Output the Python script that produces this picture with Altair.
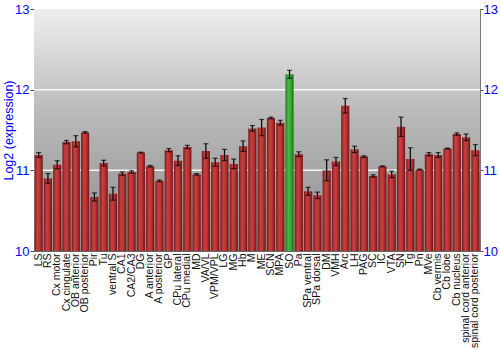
import altair as alt
import pandas as pd

regions = ["LS", "RS", "Cx motor", "Cx cingulate", "OB anterior", "OB posterior", "Pir", "Tu",
           "ventral S", "CA1", "CA2/CA3", "DG", "A anterior", "A posterior", "GP", "CPu lateral",
           "CPu medial", "MD", "VA/VL", "VPM/VPL", "LG", "MG", "Hb", "M", "ME", "SCN", "MPA", "SO",
           "Pa", "SPa ventral", "SPa dorsal", "DM", "VMH", "Arc", "LH", "PAG", "SC", "IC", "VTA",
           "SN", "Tg", "Pn", "MVe", "Cb vermis", "Cb lobe", "Cb nucleus", "spinal cord anterior",
           "spinal cord posterior"]
values = [11.19, 10.90, 11.07, 11.35, 11.36, 11.47, 10.67, 11.09,
          10.71, 10.96, 10.98, 11.22, 11.05, 10.87, 11.25, 11.12,
          11.29, 10.95, 11.24, 11.10, 11.19, 11.08, 11.30, 11.52, 11.53, 11.65, 11.59, 12.19,
          11.20, 10.74, 10.69, 11.00, 11.11, 11.80, 11.26, 11.17, 10.93, 11.05, 10.95,
          11.54, 11.14, 11.01, 11.20, 11.19, 11.27, 11.45, 11.41,
          11.25]
errors = [0.03, 0.06, 0.05, 0.02, 0.07, 0.01, 0.05, 0.035,
          0.08, 0.02, 0.015, 0.005, 0.01, 0.01, 0.02, 0.06,
          0.02, 0.01, 0.09, 0.05, 0.07, 0.06, 0.065, 0.035, 0.10, 0.01, 0.03, 0.05,
          0.03, 0.05, 0.04, 0.13, 0.05, 0.09, 0.04, 0.01, 0.015, 0.005, 0.04,
          0.12, 0.14, 0.005, 0.02, 0.03, 0.005, 0.015, 0.04,
          0.07]
highlight = "SO"
y_ticks = [10, 11, 12, 13]

df = pd.DataFrame({"region": regions, "value": values, "err": errors})
df["lo"] = df["value"] - df["err"]
df["hi"] = df["value"] + df["err"]

W, H = 446, 242
blue = "#0000ff"

xenc = alt.X("region:N", sort=regions, title=None,
             scale=alt.Scale(paddingInner=0.12, paddingOuter=0.06),
             axis=alt.Axis(labelAngle=-90, labelFontSize=10.5, labelColor="#111111",
                           labelFont="Liberation Sans", ticks=False, domain=False,
                           labelPadding=2, labelBaseline="middle"))
yscale = alt.Scale(domain=[10, 13], zero=False, nice=False)

bg = alt.Chart(pd.DataFrame({"a": [0]})).mark_rect(
    color=alt.LinearGradient(gradient="linear",
                             stops=[alt.GradientStop(color="#eeeeee", offset=0),
                                    alt.GradientStop(color="#b8b8b8", offset=0.45),
                                    alt.GradientStop(color="#8c8c8c", offset=1)],
                             x1=0, x2=0, y1=0, y2=1)
).encode(x=alt.value(0), x2=alt.value(W), y=alt.value(0), y2=alt.value(H))

grid = alt.Chart(pd.DataFrame({"g": [11, 12]})).mark_rule(color="white", strokeWidth=1.5, opacity=0.9).encode(
    y=alt.Y("g:Q", scale=yscale, axis=None))

red_grad = alt.LinearGradient(gradient="linear",
                              stops=[alt.GradientStop(color="#7a1818", offset=0),
                                     alt.GradientStop(color="#c84040", offset=0.35),
                                     alt.GradientStop(color="#b83434", offset=0.65),
                                     alt.GradientStop(color="#6e1414", offset=1)],
                              x1=0, x2=1, y1=0, y2=0)
green_grad = alt.LinearGradient(gradient="linear",
                                stops=[alt.GradientStop(color="#1f7a1f", offset=0),
                                       alt.GradientStop(color="#44bb44", offset=0.35),
                                       alt.GradientStop(color="#35a835", offset=0.65),
                                       alt.GradientStop(color="#1a6e1a", offset=1)],
                                x1=0, x2=1, y1=0, y2=0)

base = alt.Chart(df)

yaxis = alt.Axis(title="Log2 (expression)", titleColor=blue, titleFontSize=12.5,
                 titleFontWeight="normal", titleFont="Liberation Sans",
                 titleX=-26, titleY=H / 2, titleAngle=-90, titleAlign="center",
                 titleBaseline="middle",
                 labelColor=blue, labelFontSize=13, labelFont="Liberation Sans",
                 values=y_ticks, format="d", grid=False, tickColor="#555555", tickSize=4,
                 labelPadding=1, domainColor="#777777")

red = base.transform_filter(alt.datum.region != highlight).mark_bar(color=red_grad).encode(
    x=xenc, y=alt.Y("value:Q", scale=yscale, axis=yaxis), y2=alt.datum(10))
green = base.transform_filter(alt.datum.region == highlight).mark_bar(color=green_grad).encode(
    x=xenc, y=alt.Y("value:Q", scale=yscale, axis=None), y2=alt.datum(10))

err = base.mark_rule(color="#000000", strokeWidth=1.2).encode(
    x=xenc, y=alt.Y("lo:Q", scale=yscale, axis=None), y2="hi:Q")
capl = base.mark_tick(color="#000000", thickness=1.2, size=5).encode(
    x=xenc, y=alt.Y("lo:Q", scale=yscale, axis=None))
caph = base.mark_tick(color="#000000", thickness=1.2, size=5).encode(
    x=xenc, y=alt.Y("hi:Q", scale=yscale, axis=None))

right = alt.Chart(pd.DataFrame({"g": [10]})).mark_rule(opacity=0).encode(
    y=alt.Y("g:Q", scale=yscale,
            axis=alt.Axis(orient="right", title=None, labelColor=blue, labelFontSize=13,
                          labelFont="Liberation Sans", values=y_ticks, format="d", grid=False,
                          tickColor="#555555", tickSize=3, labelPadding=0,
                          domainColor="#777777")))

chart = alt.layer(bg, grid, red, green, err, capl, caph, right).resolve_axis(y="independent").properties(
    width=W, height=H,
    padding={"left": 34, "top": 9, "right": 20, "bottom": 99},
    autosize=alt.AutoSizeParams(type="none")
).configure_view(stroke="#666666", strokeWidth=1)

chart.save("out.html", embed_options={"renderer": "svg", "actions": False})
